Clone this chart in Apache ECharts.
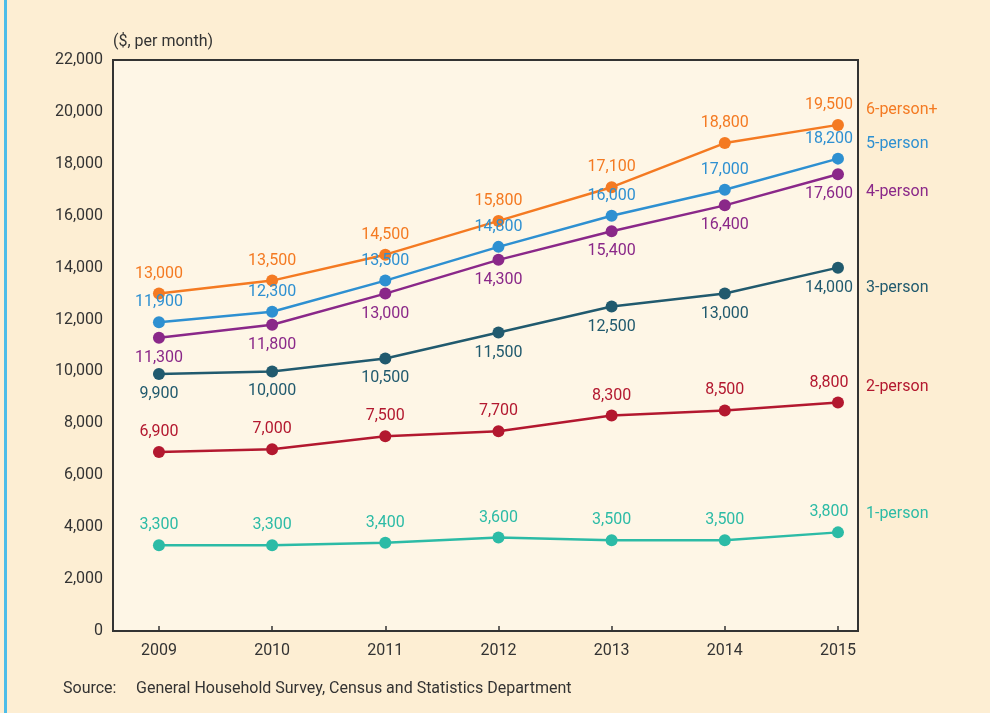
<!DOCTYPE html>
<html>
<head>
<meta charset="utf-8">
<script src="https://cdn.jsdelivr.net/npm/echarts@6/dist/echarts.min.js"></script>
<style>
  html, body { margin: 0; padding: 0; background: #fdeed3; }
  #chart { width: 990px; height: 713px; }
</style>
</head>
<body>
<div id="chart"></div>
<script>
const years = [2009, 2010, 2011, 2012, 2013, 2014, 2015];
const yTicks = [0, 2000, 4000, 6000, 8000, 10000, 12000, 14000, 16000, 18000, 20000, 22000];

const sixPerson = [13000, 13500, 14500, 15800, 17100, 18800, 19500];
const fivePerson = [11900, 12300, 13500, 14800, 16000, 17000, 18200];
const fourPerson = [11300, 11800, 13000, 14300, 15400, 16400, 17600];
const threePerson = [9900, 10000, 10500, 11500, 12500, 13000, 14000];
const twoPerson = [6900, 7000, 7500, 7700, 8300, 8500, 8800];
const onePerson = [3300, 3300, 3400, 3600, 3500, 3500, 3800];

const font = "Roboto, 'Liberation Sans', sans-serif";
const fs = 16;

function makeSeries(name, values, color, labelPos, nameDy) {
  return {
    name: name,
    type: "line",
    data: values.map(function (v, i) {
      const item = { value: [years[i], v] };
      if (i === values.length - 1) item.label = { offset: [-9, 0] };
      return item;
    }),
    lineStyle: { color: color, width: 2.5 },
    itemStyle: { color: color },
    symbol: "circle",
    symbolSize: 12,
    label: {
      show: true,
      position: labelPos,
      distance: 6,
      color: color,
      fontFamily: font,
      fontSize: fs,
      formatter: function (p) { return p.value[1].toLocaleString("en-US"); }
    },
    endLabel: {
      show: true,
      formatter: "{a}",
      color: color,
      fontFamily: font,
      fontSize: fs,
      distance: 0,
      offset: [28, nameDy]
    },
    emphasis: { disabled: true },
    animation: false
  };
}

const chart = echarts.init(document.getElementById("chart"));

chart.setOption({
  backgroundColor: "#fdeed3",
  animation: false,
  grid: {
    left: 113, right: 132, top: 60, bottom: 82,
    show: true,
    backgroundColor: "#fef6e6",
    borderColor: "#333333",
    borderWidth: 2,
    outerBoundsMode: "none",
    containLabel: false
  },
  xAxis: {
    type: "value",
    min: 2008.594,
    max: 2015.177,
    axisLine: { show: false },
    splitLine: { show: false },
    axisTick: {
      show: true,
      inside: true,
      length: 5,
      customValues: years,
      lineStyle: { color: "#333333", width: 1.5 }
    },
    axisLabel: {
      customValues: years,
      margin: 12,
      color: "#333333",
      fontFamily: font,
      fontSize: fs,
      formatter: function (v) { return String(v); }
    }
  },
  yAxis: {
    type: "value",
    min: 0,
    max: 22000,
    interval: 2000,
    name: "($, per month)",
    nameLocation: "end",
    nameGap: 10,
    nameTextStyle: {
      align: "left",
      color: "#333333",
      fontFamily: font,
      fontSize: fs
    },
    axisLine: { show: false },
    axisTick: { show: false },
    splitLine: { show: false },
    axisLabel: {
      margin: 10,
      color: "#333333",
      fontFamily: font,
      fontSize: fs
    }
  },
  graphic: [
    {
      type: "rect",
      left: 4, top: 0,
      shape: { width: 3, height: 713 },
      style: { fill: "#4dbde8" }
    },
    {
      type: "text",
      left: 63, top: 681,
      style: { text: "Source:", fill: "#333333", font: fs + "px " + font }
    },
    {
      type: "text",
      left: 136, top: 681,
      style: { text: "General Household Survey, Census and Statistics Department", fill: "#333333", font: fs + "px " + font }
    }
  ],
  series: [
    makeSeries("1-person", onePerson, "#2cbba6", "top", -18),
    makeSeries("2-person", twoPerson, "#b3182f", "top", -16),
    makeSeries("3-person", threePerson, "#215a6e", "bottom", 20),
    makeSeries("4-person", fourPerson, "#8a2889", "bottom", 18),
    makeSeries("5-person", fivePerson, "#2e90d1", "top", -15),
    makeSeries("6-person+", sixPerson, "#f47a22", "top", -15)
  ]
});
</script>
</body>
</html>
